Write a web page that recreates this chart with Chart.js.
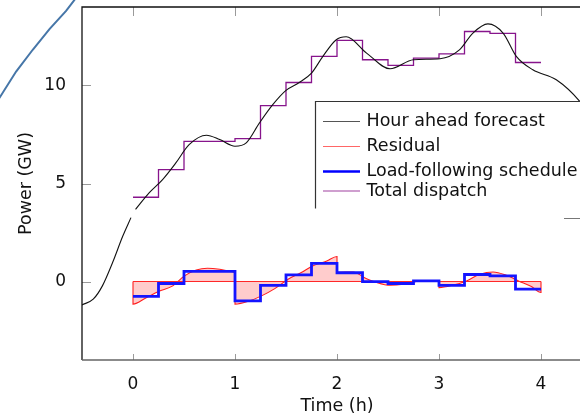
<!DOCTYPE html>
<html><head><meta charset="utf-8">
<script src="https://cdn.jsdelivr.net/npm/chart.js@4/dist/chart.umd.min.js"></script>
<style>
html,body{margin:0;padding:0;background:#fff;overflow:hidden;width:580px;height:419px}
#wrap{width:580px;height:419px;overflow:hidden;position:relative}
canvas{display:block}
</style></head>
<body><div id="wrap"><canvas id="c" width="600" height="419" style="width:600px;height:419px"></canvas></div>
<script>
// ---- data ----
const xTickLabels = [0, 1, 2, 3, 4];
const yTickLabels = [0, 5, 10];

const forecastTime  = [-0.5,-0.39,-0.3,-0.2,-0.1,-0.02,0,0.025,0.16,0.29,0.42,0.55,0.72,0.85,1.0,1.11,1.24,1.37,1.5,1.63,1.75,1.86,1.99,2.09,2.29,2.52,2.75,3.01,3.2,3.33,3.48,3.63,3.76,3.92,4.15,4.38,4.5];
const forecastPower = [-1.19,-0.9,-0.22,0.97,2.32,3.26,null,3.68,4.53,5.2,6.05,6.98,7.46,7.24,6.9,7.07,8.09,9.02,9.75,10.15,10.63,11.47,12.32,12.48,11.65,10.85,11.31,11.36,11.81,12.66,13.14,12.66,11.47,10.8,10.29,9.19,8.3];

const stepTimes     = [0,0.25,0.5,0.75,1.0,1.25,1.5,1.75,2.0,2.25,2.5,2.75,3.0,3.25,3.5,3.75];
const stepEnd       = 4.0;
const totalDispatch = [4.3,5.71,7.15,7.15,7.29,8.97,10.15,11.48,12.3,11.31,11.02,11.39,11.61,12.75,12.66,11.17];
const loadFollowing = [-0.76,-0.10,0.52,0.52,-0.99,-0.19,0.34,0.93,0.45,0.0,-0.10,0.03,-0.19,0.36,0.29,-0.39];

const residualTime  = [0,0,0.13,0.25,0.39,0.505,0.62,0.73,0.85,1.0,1.0,1.14,1.26,1.39,1.52,1.65,1.76,1.90,2.0,2.0,2.16,2.27,2.39,2.52,2.65,2.78,2.91,3.0,3.0,3.14,3.27,3.40,3.53,3.66,3.78,3.91,4.0,4.0];
const residualPower = [0,-1.15,-0.82,-0.51,-0.22,0.29,0.59,0.68,0.63,0.49,-1.15,-0.99,-0.73,-0.36,0.12,0.46,0.79,1.05,1.28,0.47,0.49,0.2,-0.05,-0.19,-0.14,0.0,0.03,0.03,-0.31,-0.18,0.03,0.37,0.49,0.32,0.03,-0.27,-0.56,0];

const baselineTime  = [0, 4];
const baselinePower = [0, 0];

// stray arc at the top-left, outside the axes (listed right-to-left)
const arcTime  = [-0.525,-0.574,-0.656,-0.819,-0.983,-1.146,-1.31,-1.4];
const arcPower = [14.77,14.36,13.80,12.87,11.82,10.71,9.36,8.7];

// ---- helpers ----
const pts = (xs, ys) => xs.map((x, i) => ({x, y: ys[i]}));
const stepPts = (vals) => stepTimes.map((t, i) => ({x: t, y: vals[i]})).concat([{x: stepEnd, y: vals[vals.length - 1]}]);

const FONT = 'DejaVu Sans';
Chart.defaults.font.family = FONT;
Chart.defaults.font.size = 17;
Chart.defaults.color = '#111';

const legendItems = [
  {label: 'Hour ahead forecast', color: '#555555', width: 1.2},
  {label: 'Residual', color: '#ff6666', width: 1.2},
  {label: 'Load-following schedule', color: '#0000ff', width: 2.6},
  {label: 'Total dispatch', color: '#a040a0', width: 1.2}
];
const legendRowsY = [121.5, 146.5, 171.5, 191];

const framePlugin = {
  id: 'frameTicks',
  afterDatasetsDraw(chart) {
    const {ctx, chartArea: a, scales: {x, y}} = chart;
    ctx.save();
    ctx.lineWidth = 1;
    ctx.strokeStyle = '#9a9a9a';
    ctx.beginPath();
    x.ticks.forEach(t => {
      const px = Math.round(x.getPixelForValue(t.value)) + 0.5;
      ctx.moveTo(px, a.bottom); ctx.lineTo(px, a.bottom - 6);
      ctx.moveTo(px, a.top); ctx.lineTo(px, a.top + 9);
    });
    y.ticks.forEach(t => {
      const py = Math.round(y.getPixelForValue(t.value)) + 0.5;
      ctx.moveTo(a.left, py); ctx.lineTo(a.left + 9, py);
      ctx.moveTo(a.right, py); ctx.lineTo(a.right - 9, py);
    });
    ctx.stroke();
    ctx.lineWidth = 1.3;
    ctx.strokeStyle = '#111';
    ctx.beginPath();
    ctx.moveTo(a.left, a.bottom); ctx.lineTo(a.left, a.top); ctx.lineTo(a.right, a.top);
    ctx.stroke();
    ctx.strokeStyle = '#666';
    ctx.beginPath();
    ctx.moveTo(a.left, a.bottom); ctx.lineTo(a.right, a.bottom); ctx.lineTo(a.right, a.top);
    ctx.stroke();
    ctx.restore();
  },
  afterDraw(chart) {
    const ctx = chart.ctx;
    ctx.save();
    const bx = 315.5, by = 101.5, bBottom = 208.5;
    ctx.fillStyle = '#fff';
    ctx.fillRect(bx, by, 300, bBottom - by);
    ctx.lineWidth = 1.2;
    ctx.strokeStyle = '#333';
    ctx.beginPath();
    ctx.moveTo(bx, bBottom); ctx.lineTo(bx, by); ctx.lineTo(620, by);
    ctx.stroke();
    ctx.strokeStyle = '#777';
    ctx.beginPath();
    ctx.moveTo(564, 218.5); ctx.lineTo(620, 218.5);
    ctx.stroke();
    ctx.font = '17.5px "' + FONT + '"';
    ctx.textBaseline = 'middle';
    ctx.textAlign = 'left';
    legendItems.forEach((it, i) => {
      const yy = legendRowsY[i];
      ctx.strokeStyle = it.color;
      ctx.lineWidth = it.width;
      ctx.beginPath();
      ctx.moveTo(323, yy); ctx.lineTo(360, yy);
      ctx.stroke();
      ctx.fillStyle = '#111';
      ctx.fillText(it.label, 366.5, yy);
    });
    ctx.restore();
  }
};

new Chart(document.getElementById('c'), {
  type: 'line',
  data: {
    datasets: [
      {label: 'arc', data: pts(arcTime, arcPower), borderColor: 'rgb(70,118,168)', borderWidth: 2, pointRadius: 0, clip: false, tension: 0, order: 5},
      {label: 'Residual', data: pts(residualTime, residualPower), borderColor: 'rgb(255,30,30)', borderWidth: 1.1,
        backgroundColor: 'rgba(255,0,0,0.2)', fill: {value: 0}, pointRadius: 0, cubicInterpolationMode: 'monotone', order: 4},
      {label: 'baseline', data: pts(baselineTime, baselinePower), borderColor: 'rgb(255,40,40)', borderWidth: 1.1, pointRadius: 0, order: 3},
      {label: 'Load-following schedule', data: stepPts(loadFollowing), borderColor: 'rgb(20,20,255)', borderWidth: 2.8, stepped: true, pointRadius: 0, order: 2},
      {label: 'Total dispatch', data: stepPts(totalDispatch), borderColor: 'rgb(135,20,140)', borderWidth: 1.3, stepped: true, pointRadius: 0, order: 1},
      {label: 'Hour ahead forecast', data: pts(forecastTime, forecastPower), borderColor: '#111', borderWidth: 1.1, pointRadius: 0, cubicInterpolationMode: 'monotone', spanGaps: false, order: 0}
    ]
  },
  options: {
    responsive: false,
    animation: false,
    events: [],
    layout: {padding: {top: 7, right: 8, left: 0, bottom: 0}},
    plugins: {legend: {display: false}, tooltip: {enabled: false}},
    scales: {
      x: {
        type: 'linear', min: -0.5, max: 4.5,
        grid: {display: false}, border: {display: false},
        ticks: {stepSize: 1, padding: 6, color: '#111', font: {size: 17}},
        afterBuildTicks: s => { s.ticks = xTickLabels.map(v => ({value: v})); },
        afterFit: s => { s.height = 59; s.paddingLeft = 0; s.paddingRight = 0; },
        title: {display: true, text: 'Time (h)', color: '#111', font: {size: 17.5}, padding: {top: 0, bottom: 2}}
      },
      y: {
        type: 'linear', min: -4, max: 14,
        grid: {display: false}, border: {display: false},
        ticks: {stepSize: 5, padding: 8, color: '#111', font: {size: 17}},
        afterBuildTicks: s => { s.ticks = yTickLabels.map(v => ({value: v})); },
        afterFit: s => { s.width = 82; s.paddingTop = 0; s.paddingBottom = 0; },
        title: {display: true, text: 'Power (GW)', color: '#111', font: {size: 17.5}, padding: {top: 16, bottom: 0}}
      }
    }
  },
  plugins: [framePlugin]
});
</script>
</body></html>
